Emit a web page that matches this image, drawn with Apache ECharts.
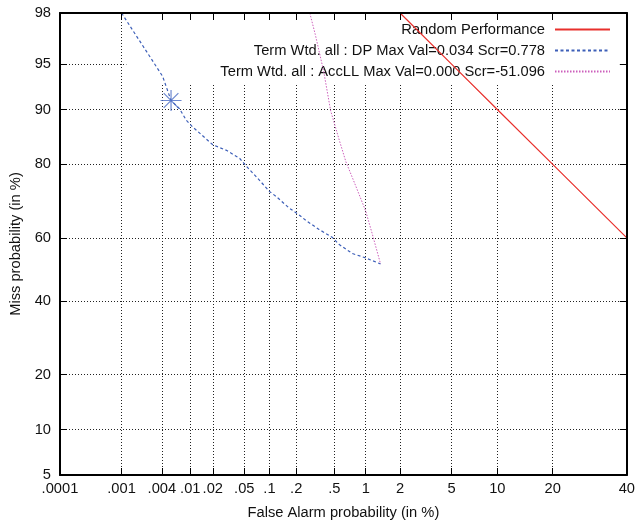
<!DOCTYPE html>
<html>
<head>
<meta charset="utf-8">
<script src="https://cdn.jsdelivr.net/npm/echarts@6/dist/echarts.min.js"></script>
<style>
  html, body { margin: 0; padding: 0; background: #fff; }
  #chart { width: 638px; height: 525px; }
</style>
</head>
<body>
<div id="chart"></div>
<script>
  // tick positions / labels (in %)
  var xTickVals = [0.0001, 0.001, 0.004, 0.01, 0.02, 0.05, 0.1, 0.2, 0.5, 1, 2, 5, 10, 20, 40]
  var xTickLabels = ['.0001', '.001', '.004', '.01', '.02', '.05', '.1', '.2', '.5', '1', '2', '5', '10', '20', '40']
  var yTickVals = [5, 10, 20, 40, 60, 80, 90, 95, 98]
  var yTickLabels = ['5', '10', '20', '40', '60', '80', '90', '95', '98']

  // Random Performance
  var randomFA = [2, 5, 10, 20, 40]
  var randomMiss = [98, 95, 90, 80, 60]

  // Term Wtd. all : DP
  var dpFA = [0.001, 0.0041, 0.0054, 0.0071, 0.0088, 0.0108, 0.020, 0.030, 0.044, 0.053, 0.076, 0.10, 0.119, 0.167, 0.215, 0.254, 0.35, 0.48, 0.556, 0.75, 1.0, 1.36]
  var dpMiss = [98, 93.9, 91.2, 90.1, 88.4, 87.3, 84.1, 83.0, 81.3, 79.6, 76.3, 73.4, 72.1, 68.9, 66.9, 65.3, 62.6, 60.1, 58.0, 55.1, 53.7, 51.8]

  // Term Wtd. all : AccLL
  var accFA = [0.28, 0.32, 0.39, 0.46, 0.56, 0.65, 0.80, 1.0, 1.15, 1.36]
  var accMiss = [98, 97.0, 94.4, 89.8, 85.0, 80.6, 75.1, 68.0, 61.1, 51.8]

  // DP max value point
  var starFA = [0.0054]
  var starMiss = [91.2]

  var FONT = 'Liberation Sans, Arial, sans-serif'
  var FS = 14.7

  // inverse normal cdf (DET axes are normal deviate scaled)
  function probit(p) {
    var a = [-3.969683028665376e+01, 2.209460984245205e+02, -2.759285104469687e+02, 1.383577518672690e+02, -3.066479806614716e+01, 2.506628277459239e+00]
    var b = [-5.447609879822406e+01, 1.615858368580409e+02, -1.556989798598866e+02, 6.680131188771972e+01, -1.328068155288572e+01]
    var c = [-7.784894002430293e-03, -3.223964580411365e-01, -2.400758277161838e+00, -2.549732539343734e+00, 4.374664141464968e+00, 2.938163982698783e+00]
    var d = [7.784695709041462e-03, 3.224671290700398e-01, 2.445134137142996e+00, 3.754408661907416e+00]
    var plow = 0.02425
    var q, r
    if (p < plow) {
      q = Math.sqrt(-2 * Math.log(p))
      return (((((c[0] * q + c[1]) * q + c[2]) * q + c[3]) * q + c[4]) * q + c[5]) / ((((d[0] * q + d[1]) * q + d[2]) * q + d[3]) * q + 1)
    }
    if (p > 1 - plow) {
      q = Math.sqrt(-2 * Math.log(1 - p))
      return -(((((c[0] * q + c[1]) * q + c[2]) * q + c[3]) * q + c[4]) * q + c[5]) / ((((d[0] * q + d[1]) * q + d[2]) * q + d[3]) * q + 1)
    }
    q = p - 0.5
    r = q * q
    return (((((a[0] * r + a[1]) * r + a[2]) * r + a[3]) * r + a[4]) * r + a[5]) * q / (((((b[0] * r + b[1]) * r + b[2]) * r + b[3]) * r + b[4]) * r + 1)
  }
  function pct(v) { return probit(v / 100) }
  function pairs(xs, ys) {
    return xs.map(function (x, i) { return [pct(x), pct(ys[i])] })
  }
  function labelOf(vals, labels) {
    return function (v) {
      for (var i = 0; i < vals.length; i++) {
        if (Math.abs(pct(vals[i]) - v) < 1e-6) return labels[i]
      }
      return ''
    }
  }

  var xTicks = xTickVals.map(pct)
  var yTicks = yTickVals.map(pct)
  var xMin = pct(xTickVals[0]), xMax = pct(xTickVals[xTickVals.length - 1])
  var yMin = pct(yTickVals[0]), yMax = pct(yTickVals[yTickVals.length - 1])

  var borderLine = { show: true, onZero: false, lineStyle: { color: '#000', width: 2 } }
  var tickIn = { show: true, inside: true, length: 7, lineStyle: { color: '#000', width: 1 } }
  var gridLine = { show: true, lineStyle: { color: '#222', width: 1, type: [1, 2] } }

  var chart = echarts.init(document.getElementById('chart'))
  chart.setOption({
    animation: false,
    backgroundColor: '#fff',
    textStyle: { fontFamily: FONT },
    grid: { left: 60, right: 9, top: 13, bottom: 45 },
    legend: {
      orient: 'vertical',
      align: 'right',
      right: 9,
      top: 14,
      padding: [8, 18, 4, 94],
      itemWidth: 55,
      itemHeight: 14,
      itemGap: 6,
      z: 1,
      backgroundColor: '#fff',
      itemStyle: { opacity: 0 },
      textStyle: { fontFamily: FONT, fontSize: FS, color: '#111', padding: [0, 5, 0, 0] },
      data: ['Random Performance', 'Term Wtd. all : DP Max Val=0.034 Scr=0.778', 'Term Wtd. all : AccLL Max Val=0.000 Scr=-51.096']
    },
    xAxis: [
      {
        type: 'value',
        min: xMin,
        max: xMax,
        name: 'False Alarm probability (in %)',
        nameLocation: 'middle',
        nameGap: 30,
        nameTextStyle: { fontFamily: FONT, fontSize: FS, color: '#111' },
        axisLine: borderLine,
        axisTick: Object.assign({}, tickIn, { customValues: xTicks }),
        axisLabel: { customValues: xTicks, formatter: labelOf(xTickVals, xTickLabels), fontFamily: FONT, fontSize: FS, color: '#111', margin: 6 },
        splitLine: gridLine
      },
      {
        type: 'value',
        position: 'top',
        min: xMin,
        max: xMax,
        z: 3,
        axisLine: borderLine,
        axisTick: Object.assign({}, tickIn, { customValues: xTicks }),
        axisLabel: { show: false },
        splitLine: { show: false }
      }
    ],
    yAxis: [
      {
        type: 'value',
        min: yMin,
        max: yMax,
        name: 'Miss probability (in %)',
        nameLocation: 'middle',
        nameGap: 36,
        nameTextStyle: { fontFamily: FONT, fontSize: FS, color: '#111' },
        axisLine: borderLine,
        axisTick: Object.assign({}, tickIn, { customValues: yTicks }),
        axisLabel: { customValues: yTicks, formatter: labelOf(yTickVals, yTickLabels), fontFamily: FONT, fontSize: FS, color: '#111', margin: 9 },
        splitLine: gridLine
      },
      {
        type: 'value',
        position: 'right',
        min: yMin,
        max: yMax,
        z: 3,
        axisLine: borderLine,
        axisTick: Object.assign({}, tickIn, { customValues: yTicks }),
        axisLabel: { show: false },
        splitLine: { show: false }
      }
    ],
    series: [
      {
        name: 'Random Performance',
        type: 'line',
        z: 2,
        symbol: 'none',
        lineStyle: { color: '#e8302c', width: 1.2 },
        itemStyle: { color: '#e8302c' },
        data: pairs(randomFA, randomMiss)
      },
      {
        name: 'Term Wtd. all : DP Max Val=0.034 Scr=0.778',
        type: 'line',
        z: 2,
        symbol: 'none',
        lineStyle: { color: '#3d5fb8', width: 1.2, type: [3, 2.5] },
        itemStyle: { color: '#3d5fb8' },
        data: pairs(dpFA, dpMiss)
      },
      {
        name: 'Term Wtd. all : AccLL Max Val=0.000 Scr=-51.096',
        type: 'line',
        z: 2,
        symbol: 'none',
        lineStyle: { color: '#cc5fbb', width: 1, type: [1.5, 1.5] },
        itemStyle: { color: '#cc5fbb' },
        data: pairs(accFA, accMiss)
      },
      {
        name: 'dp-max',
        type: 'scatter',
        z: 3,
        symbol: 'path://M0,10L20,10M10,0L10,20M3,3L17,17M17,3L3,17',
        symbolSize: 21,
        itemStyle: { color: 'rgba(0,0,0,0)', borderColor: '#4a6cc4', borderWidth: 1.2 },
        data: pairs(starFA, starMiss)
      }
    ]
  })
</script>
</body>
</html>
